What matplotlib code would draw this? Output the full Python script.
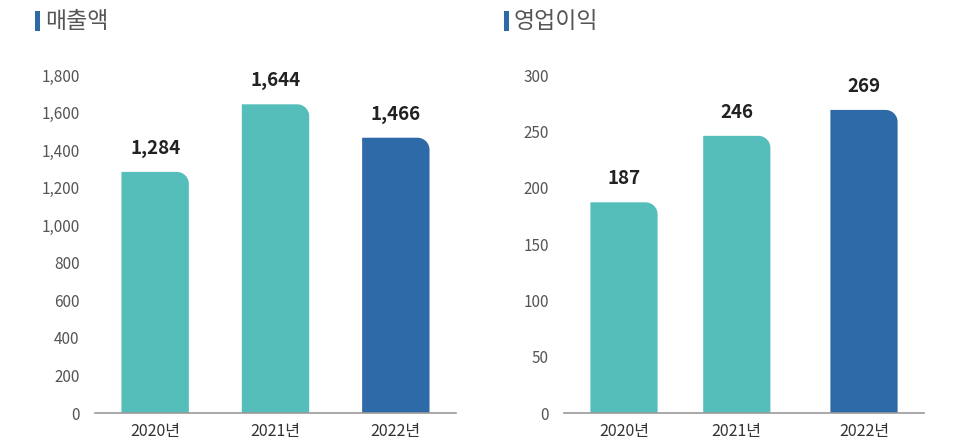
import matplotlib.pyplot as plt
from matplotlib.path import Path
from matplotlib.patches import PathPatch, Rectangle

plt.rcParams['font.family'] = ['Noto Sans CJK KR', 'DejaVu Sans']

# data
years = ['2020년', '2021년', '2022년']
sales = [1284, 1644, 1466]
profit = [187, 246, 269]
bar_colors = ['#55bdba', '#55bdba', '#2f6aa8']

W, H = 962, 444
fig = plt.figure(figsize=(W / 100, H / 100), dpi=100)


def rounded_bar(ax, x, h, width, color, r_px=12):
    # bar with only the top-right corner rounded
    fig.canvas.draw()
    p0 = ax.transData.transform((0, 0))
    p1 = ax.transData.transform((1, 1))
    rx = r_px / (p1[0] - p0[0])
    ry = r_px / (p1[1] - p0[1])
    x0, x1 = x - width / 2, x + width / 2
    k = 0.55
    verts = [(x0, 0), (x1, 0), (x1, h - ry),
             (x1, h - ry + k * ry), (x1 - rx + k * rx, h), (x1 - rx, h),
             (x0, h), (x0, 0)]
    codes = [Path.MOVETO, Path.LINETO, Path.LINETO,
             Path.CURVE4, Path.CURVE4, Path.CURVE4,
             Path.LINETO, Path.CLOSEPOLY]
    ax.add_patch(PathPatch(Path(verts, codes), facecolor=color, edgecolor='none'))


def make_chart(rect, values, xpos, ymax, ystep, title, fmt):
    ax = fig.add_axes(rect)
    ax.set_xlim(-0.5, 2.5)
    ax.set_ylim(0, ymax)
    for s in ['top', 'right', 'left']:
        ax.spines[s].set_visible(False)
    ax.spines['bottom'].set_color('#9a9a9a')
    ax.spines['bottom'].set_linewidth(1.2)
    ax.set_yticks(range(0, ymax + 1, ystep))
    ax.set_yticklabels([fmt(v) for v in range(0, ymax + 1, ystep)])
    ax.set_xticks(xpos)
    ax.set_xticklabels(years)
    ax.tick_params(axis='y', length=0, pad=11, labelsize=11, labelcolor='#555555')
    ax.tick_params(axis='x', length=0, pad=7, labelsize=11.5, labelcolor='#333333')
    for x, v, c in zip(xpos, values, bar_colors):
        rounded_bar(ax, x, v, 0.56, c)
        ax.annotate(fmt(v), (x, v), xytext=(0, 10), textcoords='offset points',
                    ha='center', va='bottom', fontsize=13.5, fontweight='bold',
                    color='#222222')
    # title with small blue marker
    l = rect[0]
    fig.patches.append(Rectangle((l - 60 / W, 1 - 31 / H), 5 / W, 20 / H,
                                 transform=fig.transFigure, facecolor='#2f6aa8',
                                 edgecolor='none'))
    fig.text(l - 50 / W, 1 - 21 / H, title, fontsize=16.5, color='#555555',
             va='center', ha='left')
    return ax


make_chart([95 / W, 31 / H, 361 / W, 338 / H], sales, [0, 1, 2], 1800, 200,
           '매출액', lambda v: f'{v:,}')
make_chart([564 / W, 31 / H, 360 / W, 338 / H], profit, [0, 0.94, 2], 300, 50,
           '영업이익', lambda v: f'{v}')

plt.savefig('out.png', dpi=100)
